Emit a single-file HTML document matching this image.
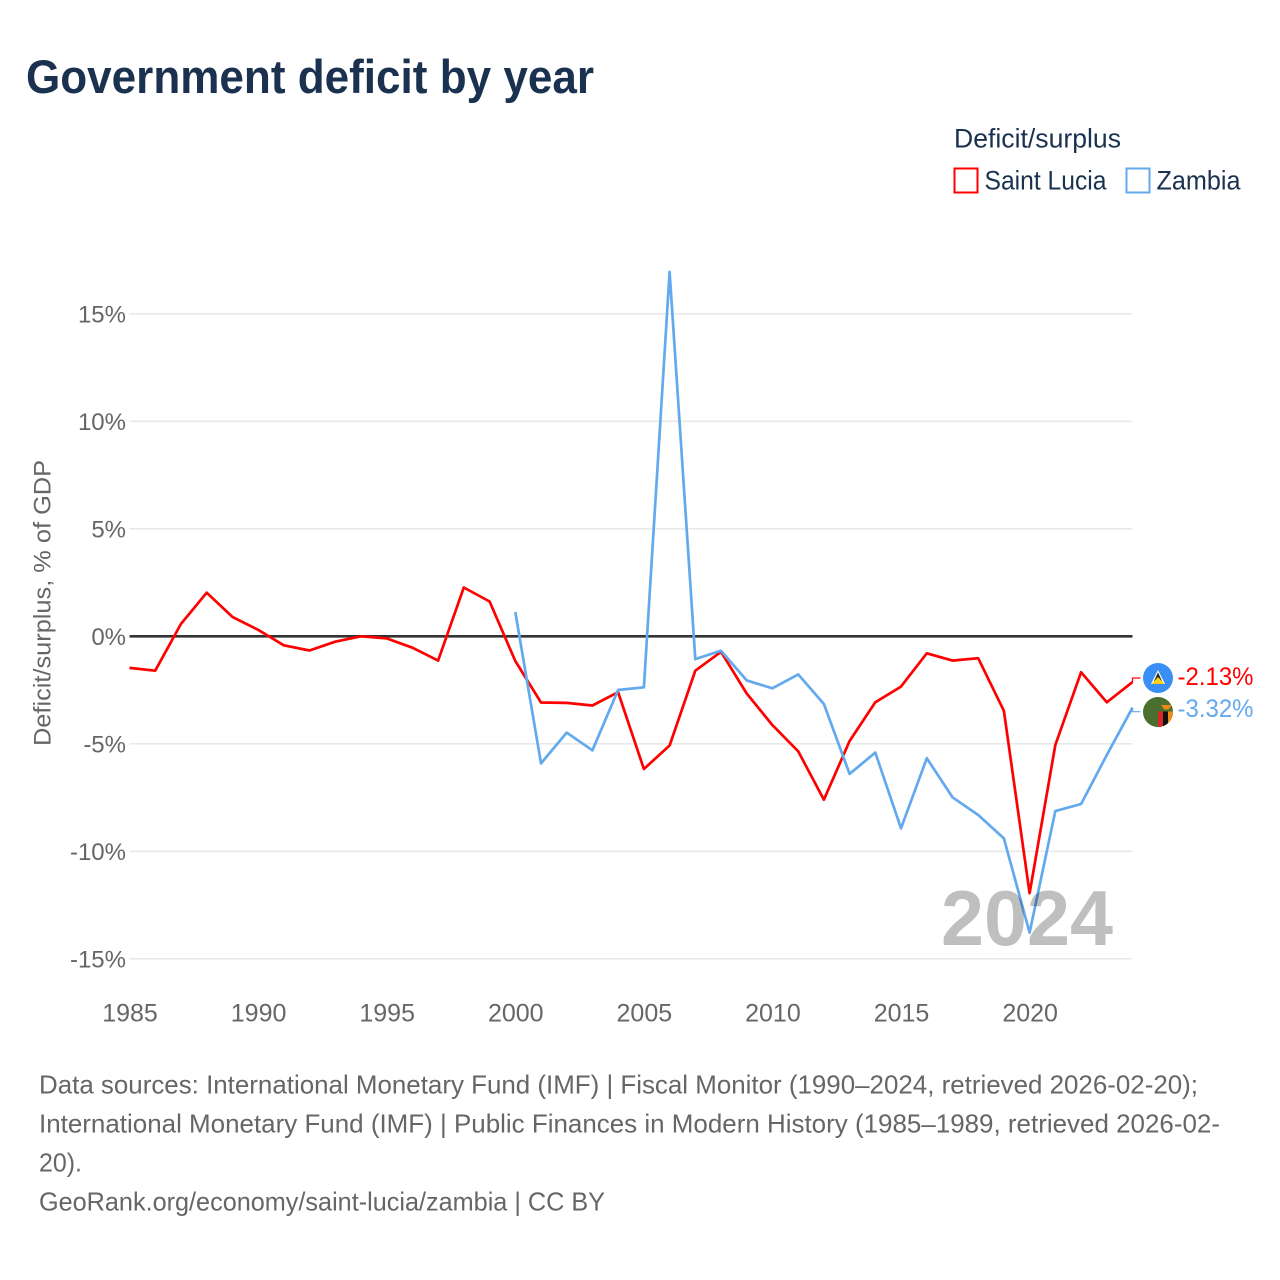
<!DOCTYPE html>
<html lang="en">
<head>
<meta charset="utf-8">
<title>Government deficit by year</title>
<style>
html,body{margin:0;padding:0;background:#fff;}
svg{display:block;}
text{font-family:"Liberation Sans",sans-serif;}
</style>
</head>
<body>
<svg id="chart" width="1280" height="1280" viewBox="0 0 1280 1280" xmlns="http://www.w3.org/2000/svg">
  <rect x="0" y="0" width="1280" height="1280" fill="#fff"/>
  <text x="26" y="93" font-size="47" font-weight="700" fill="#1a3150" textLength="568" lengthAdjust="spacingAndGlyphs">Government deficit by year</text>

  <g>
    <text x="954" y="147.500" font-size="27" fill="#1a3150" textLength="167" lengthAdjust="spacingAndGlyphs">Deficit/surplus</text>
    <rect x="954.500" y="168.500" width="23" height="24" fill="#fff" stroke="#ff0000" stroke-width="2"/>
    <text x="984.500" y="189.500" font-size="27" fill="#1a3150" textLength="122" lengthAdjust="spacingAndGlyphs">Saint Lucia</text>
    <rect x="1126.500" y="168.500" width="23" height="24" fill="#fff" stroke="#62a9ee" stroke-width="2"/>
    <text x="1156.500" y="189.500" font-size="27" fill="#1a3150" textLength="84" lengthAdjust="spacingAndGlyphs">Zambia</text>
  </g>

  <text transform="translate(50.500,603) rotate(-90)" text-anchor="middle" font-size="24.500" fill="#666" textLength="286" lengthAdjust="spacingAndGlyphs">Deficit/surplus, % of GDP</text>

  <g id="grid"></g>
  <g id="yticks"></g>
  <g id="xticks"></g>
  <g id="series"></g>

  <text x="941" y="945" font-size="78" font-weight="700" fill="#000" fill-opacity="0.25" textLength="172" lengthAdjust="spacingAndGlyphs">2024</text>

  <g>
    <circle cx="1158" cy="678" r="15" fill="#3a8ff5"/>
    <path d="M1158 670 L1165 684 H1151 Z" fill="#fff"/>
    <path d="M1158 672.500 L1162 681 H1154 Z" fill="#222"/>
    <path d="M1158 677 L1164.500 684 H1151.500 Z" fill="#fcd116"/>
  </g>
  <g>
    <clipPath id="zm-clip"><circle cx="1158" cy="712" r="15"/></clipPath>
    <circle cx="1158" cy="712" r="15" fill="#4b6f2e"/>
    <g clip-path="url(#zm-clip)">
      <rect x="1158" y="711.500" width="5" height="17" fill="#d62828"/>
      <rect x="1163" y="711.500" width="5" height="17" fill="#111"/>
      <rect x="1168" y="711.500" width="5" height="17" fill="#ef8a17"/>
      <path d="M1161 705 H1172 L1168.500 709.500 H1164.500 Z" fill="#ef8a17"/>
    </g>
  </g>
  <text id="label-lc" x="1177.500" y="685" font-size="25" fill="#ff0000" textLength="76" lengthAdjust="spacingAndGlyphs"></text>
  <text id="label-zm" x="1177.500" y="717" font-size="25" fill="#62a9ee" textLength="76" lengthAdjust="spacingAndGlyphs"></text>

  <g font-size="26" fill="#666">
    <text x="39" y="1093.500" textLength="1159" lengthAdjust="spacingAndGlyphs">Data sources: International Monetary Fund (IMF) | Fiscal Monitor (1990–2024, retrieved 2026-02-20);</text>
    <text x="39" y="1132.500" textLength="1181" lengthAdjust="spacingAndGlyphs">International Monetary Fund (IMF) | Public Finances in Modern History (1985–1989, retrieved 2026-02-</text>
    <text x="39" y="1171.500" textLength="43" lengthAdjust="spacingAndGlyphs">20).</text>
    <text x="39" y="1210.500" textLength="566" lengthAdjust="spacingAndGlyphs">GeoRank.org/economy/saint-lucia/zambia | CC BY</text>
  </g>
</svg>
<script>
const xTickYears = [1985, 1990, 1995, 2000, 2005, 2010, 2015, 2020];
const yTickValues = [15, 10, 5, 0, -5, -10, -15];
const years = [1985,1986,1987,1988,1989,1990,1991,1992,1993,1994,1995,1996,1997,1998,1999,2000,2001,2002,2003,2004,2005,2006,2007,2008,2009,2010,2011,2012,2013,2014,2015,2016,2017,2018,2019,2020,2021,2022,2023,2024];
const saintLucia = [-1.47,-1.6,0.57,2.03,0.9,0.3,-0.42,-0.66,-0.25,0.0,-0.1,-0.53,-1.13,2.27,1.62,-1.15,-3.08,-3.1,-3.22,-2.6,-6.17,-5.08,-1.6,-0.72,-2.66,-4.13,-5.35,-7.6,-4.87,-3.07,-2.34,-0.79,-1.13,-1.02,-3.47,-11.95,-5.06,-1.67,-3.07,-2.13];
const zambiaYears = [2000,2001,2002,2003,2004,2005,2006,2007,2008,2009,2010,2011,2012,2013,2014,2015,2016,2017,2018,2019,2020,2021,2022,2023,2024];
const zambia = [1.13,-5.91,-4.48,-5.3,-2.5,-2.37,16.95,-1.06,-0.67,-2.05,-2.42,-1.77,-3.15,-6.4,-5.41,-8.93,-5.67,-7.49,-8.31,-9.4,-13.78,-8.13,-7.8,-5.52,-3.32];

const NS = 'http://www.w3.org/2000/svg';
const plotLeft = 129.5, plotRight = 1132.5;
function xScale(year) { return plotLeft + (year - 1985) * (plotRight - plotLeft) / (2024 - 1985); }
function yScale(v) { return 636.3 - v * 21.5; }
function make(tag, attrs, parent) {
  const el = document.createElementNS(NS, tag);
  for (const k in attrs) el.setAttribute(k, attrs[k]);
  parent.appendChild(el);
  return el;
}
const gridG = document.getElementById('grid');
const yG = document.getElementById('yticks');
const xG = document.getElementById('xticks');
const seriesG = document.getElementById('series');

yTickValues.filter(v => v !== 0).forEach(v => {
  const line = make('line', {x1: plotLeft, x2: plotRight, y1: yScale(v), y2: yScale(v), stroke: '#e9e9e9', 'stroke-width': 1.6}, gridG);
  
  
});
const zero = make('line', {x1: plotLeft, x2: plotRight, y1: yScale(0), y2: yScale(0), stroke: '#333', 'stroke-width': 2.6}, gridG);



yTickValues.forEach(v => {
  const t = make('text', {x: 126, y: yScale(v) + 8.5, 'text-anchor': 'end', 'font-size': 24, fill: '#666'}, yG);
  t.textContent = v + '%';
  
  
});
xTickYears.forEach(y => {
  const t = make('text', {x: xScale(y) + 0.5, y: 1021.5, 'text-anchor': 'middle', 'font-size': 25, fill: '#666'}, xG);
  t.textContent = y;
  
  
});

function drawLine(xs, vals, color, connectorY, name) {
  const pts = xs.map((y, i) => xScale(y).toFixed(1) + ',' + yScale(vals[i]).toFixed(1));
  const p = make('polyline', {points: pts.join(' '), fill: 'none', stroke: color, 'stroke-width': 2.7, 'stroke-linejoin': 'round'}, seriesG);
  
  
  const lastX = xScale(xs[xs.length - 1]);
  const lastY = yScale(vals[vals.length - 1]);
  const c = make('polyline', {points: lastX + ',' + lastY + ' ' + lastX + ',' + connectorY + ' ' + (lastX + 8) + ',' + connectorY, fill: 'none', stroke: color, 'stroke-width': 1.2}, seriesG);
  
  
}
drawLine(years, saintLucia, '#ff0000', 678, 'line-saint-lucia');
drawLine(zambiaYears, zambia, '#62a9ee', 711.7, 'line-zambia');

document.getElementById('label-lc').textContent = saintLucia[saintLucia.length - 1].toFixed(2) + '%';
document.getElementById('label-zm').textContent = zambia[zambia.length - 1].toFixed(2) + '%';
</script>
</body>
</html>
